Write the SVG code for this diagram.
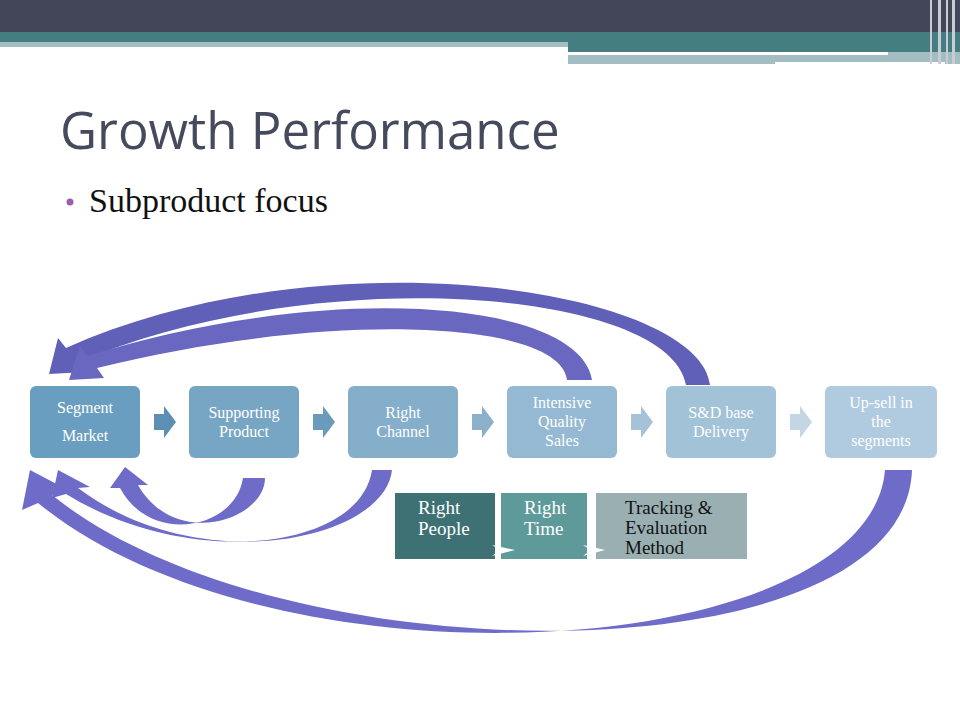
<svg xmlns="http://www.w3.org/2000/svg" width="960" height="720" viewBox="0 0 960 720">
<style>
.b{font-family:"Liberation Serif",serif;font-size:16px;fill:#fff;text-anchor:middle}
.m{font-family:"Liberation Serif",serif;font-size:19px;fill:#fff}
.c{fill:#6f6bc9}
</style>
<rect width="960" height="720" fill="#fff"/>
<rect width="960" height="32" fill="#434658"/>
<rect y="32" width="960" height="10" fill="#447e80"/>
<rect y="42" width="568" height="5" fill="#a3bec2"/>
<rect x="568" y="42" width="392" height="10" fill="#447e80"/>
<rect x="568" y="52" width="392" height="12" fill="#a3bec2"/>
<rect x="568" y="52" width="320" height="3" fill="#fff"/>
<rect x="775" y="62" width="170" height="3" fill="#fff"/>
<g fill="#c8ccd4"><rect x="930" y="0" width="2" height="64"/><rect x="938" y="0" width="3" height="64"/><rect x="946" y="0" width="2" height="64"/><rect x="952" y="0" width="3" height="64"/></g>
<text x="60" y="149" font-family="Open Sans,sans-serif" font-size="51" fill="#454a5c">Growth Performance</text>
<circle cx="70" cy="202" r="3.5" fill="#9b5fa8"/>
<text x="89" y="212" font-family="Liberation Serif,serif" font-size="34" fill="#111">Subproduct focus</text>
<g id="connectors">
<path d="M710,385 C700,290 330,230 66,348 L58,338 L49,374 L86,372 L78,362 C320,260 670,290 686,385 Z" fill="#6160b8"/>
<path d="M592,380 C580,300 330,280 87,356 L80,346 L69,380 L104,378 L97,368 C330,310 560,320 567,380 Z" fill="#6967c0"/>
<path class="c" d="M265,478 C265,520 175,550 138,485 L148,485 L125,467 L110,488 L120,488 C150,545 235,530 243,478 Z"/>
<path class="c" d="M392,470 C385,540 200,580 78,488 L90,487 L58,470 L52,498 L66,494 C190,570 360,550 372,470 Z"/>
<path class="c" d="M912,470 C905,680 280,680 52,495 L68,490 L30,470 L22,510 L38,503 C280,700 870,660 885,470 Z"/>
</g>
<g id="n1"><rect x="30" y="386" width="110" height="72" rx="6" fill="#6a9ec0"/><text class="b" x="85" y="413">Segment</text><text class="b" x="85" y="441">Market</text></g>
<g id="n2"><rect x="189" y="386" width="110" height="72" rx="6" fill="#77a6c5"/><text class="b" x="244" y="418">Supporting</text><text class="b" x="244" y="437">Product</text></g>
<g id="n3"><rect x="348" y="386" width="110" height="72" rx="6" fill="#85aecb"/><text class="b" x="403" y="418">Right</text><text class="b" x="403" y="437">Channel</text></g>
<g id="n4"><rect x="507" y="386" width="110" height="72" rx="6" fill="#95b9d2"/><text class="b" x="562" y="408">Intensive</text><text class="b" x="562" y="427">Quality</text><text class="b" x="562" y="446">Sales</text></g>
<g id="n5"><rect x="666" y="386" width="110" height="72" rx="6" fill="#a2c2d8"/><text class="b" x="721" y="418">S&amp;D base</text><text class="b" x="721" y="437">Delivery</text></g>
<g id="n6"><rect x="825" y="386" width="112" height="72" rx="6" fill="#b0cbe0"/><text class="b" x="881" y="408">Up-sell in</text><text class="b" x="881" y="427">the</text><text class="b" x="881" y="446">segments</text></g>
<g id="chevrons">
<path d="M154,414 h10 v-8 l12,16 l-12,16 v-8 h-10 Z" fill="#5b8fb3"/>
<path d="M313,414 h10 v-8 l12,16 l-12,16 v-8 h-10 Z" fill="#6a9bbd"/>
<path d="M472,414 h10 v-8 l12,16 l-12,16 v-8 h-10 Z" fill="#8ab0ca"/>
<path d="M631,414 h10 v-8 l12,16 l-12,16 v-8 h-10 Z" fill="#a6c2d6"/>
<path d="M790,414 h10 v-8 l12,16 l-12,16 v-8 h-10 Z" fill="#c2d6e4"/>
</g>
<g id="m1"><rect x="395" y="493" width="100" height="66" fill="#3d7174"/><text class="m" x="418" y="514">Right</text><text class="m" x="418" y="535">People</text></g>
<g id="m2"><rect x="501" y="493" width="86" height="66" fill="#5e9a9a"/><text class="m" x="524" y="514">Right</text><text class="m" x="524" y="535">Time</text></g>
<g id="m3"><rect x="596" y="493" width="151" height="66" fill="#9aafb2"/><text class="m" x="625" y="514" style="fill:#111">Tracking &amp;</text><text class="m" x="625" y="534" style="fill:#111">Evaluation</text><text class="m" x="625" y="554" style="fill:#111">Method</text></g>
<g fill="#fff"><path d="M492,545 L515,550 L492,556 L500,550 Z"/><path d="M583,545 L605,550 L583,556 L591,550 Z"/></g>
</svg>
